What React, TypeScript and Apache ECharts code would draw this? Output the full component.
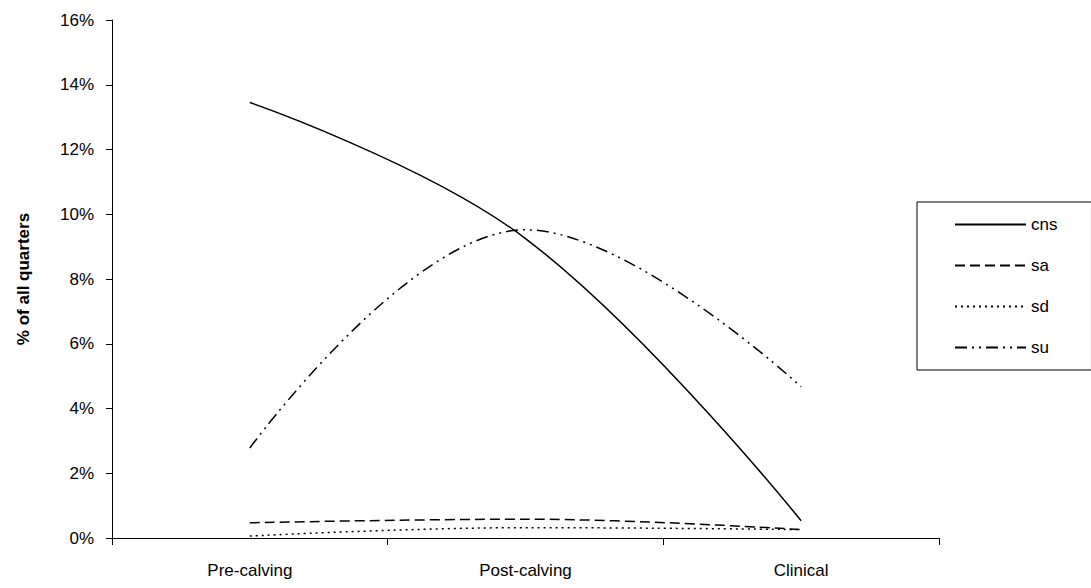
import React, { useEffect, useRef } from "react";
import * as echarts from "echarts";

const categories = ["Pre-calving", "Post-calving", "Clinical"];
const cns = [13.45, 9.25, 0.53];
const sa = [0.47, 0.58, 0.26];
const sd = [0.06, 0.32, 0.26];
const su = [2.78, 9.52, 4.67];
const yTicks = [0, 2, 4, 6, 8, 10, 12, 14, 16];

const FONT = "'Liberation Sans', Arial, sans-serif";

export default function App() {
  const ref = useRef<HTMLDivElement>(null);
  useEffect(() => {
    if (!ref.current) return;
    const chart = echarts.init(ref.current, undefined, { renderer: "svg" });
    const mk = (name: string, data: number[], type: any) => ({
      name,
      type: "line",
      data,
      smooth: 0.4,
      symbol: "none",
      lineStyle: { color: "#000", width: 1.5, type },
      itemStyle: { color: "#000" },
    });
    chart.setOption({
      animation: false,
      backgroundColor: "#fff",
      textStyle: { fontFamily: FONT },
      grid: { left: 112, right: 152, top: 20, bottom: 50 },
      legend: {
        orient: "vertical",
        left: 917,
        top: 202,
        padding: [14, 34, 14, 37],
        borderColor: "#000",
        borderWidth: 1,
        itemWidth: 71,
        itemHeight: 14,
        itemGap: 24,
        itemStyle: { opacity: 0, borderWidth: 0 },
        textStyle: { fontSize: 17, color: "#000", fontFamily: FONT },
        data: ["cns", "sa", "sd", "su"],
      },
      xAxis: {
        type: "category",
        data: categories,
        boundaryGap: true,
        axisLine: { lineStyle: { color: "#000", width: 1 } },
        axisTick: { show: true, length: 7, inside: false, lineStyle: { color: "#000" } },
        axisLabel: { fontSize: 17, color: "#000", margin: 24, fontFamily: FONT },
        splitLine: { show: false },
      },
      yAxis: {
        type: "value",
        min: yTicks[0],
        max: yTicks[yTicks.length - 1],
        interval: 2,
        name: "% of all quarters",
        nameLocation: "middle",
        nameGap: 80,
        nameRotate: 90,
        nameTextStyle: { fontSize: 17, fontWeight: "bold", color: "#000", fontFamily: FONT },
        axisLine: { show: true, lineStyle: { color: "#000", width: 1 } },
        axisTick: { show: true, length: 6, inside: false, lineStyle: { color: "#000" } },
        axisLabel: { fontSize: 17, color: "#000", margin: 18, formatter: "{value}%", fontFamily: FONT },
        splitLine: { show: false },
      },
      series: [
        mk("cns", cns, "solid"),
        mk("sa", sa, [10, 5]),
        mk("sd", sd, [2, 4]),
        mk("su", su, [12, 5, 2, 5, 2, 5]),
      ],
    });
    return () => chart.dispose();
  }, []);
  return <div ref={ref} style={{ width: 1091, height: 588, position: "absolute", left: 0, top: 0 }} />;
}
